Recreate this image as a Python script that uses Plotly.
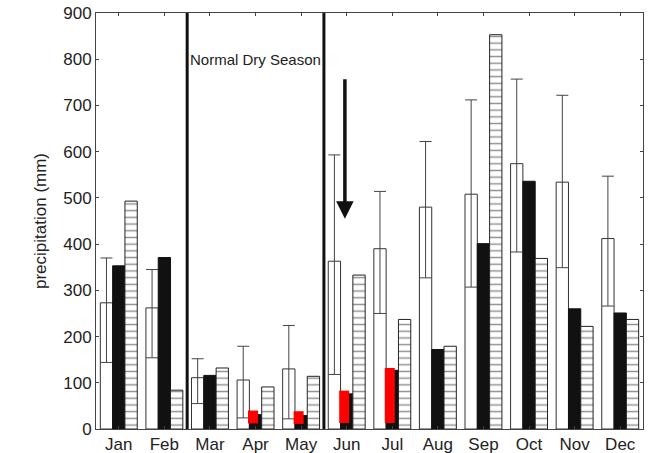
import plotly.graph_objects as go

months = ["Jan", "Feb", "Mar", "Apr", "May", "Jun", "Jul", "Aug", "Sep", "Oct", "Nov", "Dec"]
x_pos = list(range(1, 13))

# White bars: mean with error bars (upper / lower ends)
white_mean = [273, 262, 111, 106, 130, 363, 390, 480, 508, 574, 534, 412]
white_upper = [370, 345, 152, 179, 224, 593, 514, 622, 712, 757, 722, 547]
white_lower = [144, 154, 55, 24, 22, 118, 250, 327, 307, 383, 349, 266]

# Black bars
black_vals = [353, 371, 116, 31, 29, 76, 127, 172, 401, 536, 260, 251]

# Hatched bars
hatched_vals = [493, 84, 132, 91, 114, 333, 237, 179, 853, 369, 222, 237]

# Red highlight boxes (Apr-Jul)
red_months = [4, 5, 6, 7]
red_base = [12, 11, 13, 13]
red_top = [40, 38.5, 83, 132]

err_plus = [u - m for u, m in zip(white_upper, white_mean)]
err_minus = [m - l for m, l in zip(white_mean, white_lower)]

W = 0.27
fig = go.Figure()
fig.add_trace(go.Bar(
    x=x_pos, y=white_mean, width=W, offset=-1.5 * W,
    marker=dict(color="white", line=dict(color="#333", width=1)),
    error_y=dict(type="data", symmetric=False, array=err_plus, arrayminus=err_minus,
                 color="#444", thickness=1, width=6),
    showlegend=False))
fig.add_trace(go.Bar(
    x=x_pos, y=black_vals, width=W, offset=-0.5 * W,
    marker=dict(color="#111", line=dict(color="#111", width=1)),
    showlegend=False))
fig.add_trace(go.Bar(
    x=x_pos, y=hatched_vals, width=W, offset=0.5 * W,
    marker=dict(color="white", line=dict(color="#222", width=1),
                pattern=dict(shape="-", size=6.7, solidity=0.22, fgcolor="#222", bgcolor="white")),
    showlegend=False))
fig.add_trace(go.Bar(
    x=red_months, y=[t - b for t, b in zip(red_top, red_base)], base=red_base,
    width=0.22, offset=-0.165,
    marker=dict(color="#ff0000", line=dict(width=0)),
    showlegend=False))

# Season boundary lines
for xv in [2.5, 5.5]:
    fig.add_shape(type="line", x0=xv, x1=xv, y0=0, y1=1, xref="x", yref="paper",
                  line=dict(color="#111", width=3))

fig.add_annotation(x=4.0, y=799, text="Normal Dry Season", showarrow=False,
                   font=dict(family="Arial, Liberation Sans", size=15, color="#222"))

fig.add_annotation(x=5.96, y=455, ax=5.96, ay=760, xref="x", yref="y", axref="x", ayref="y",
                   text="", showarrow=True, arrowhead=2, arrowsize=1, arrowwidth=3.5,
                   arrowcolor="#111")

fig.update_layout(
    width=654, height=453,
    margin=dict(l=96, r=11, t=13, b=24),
    paper_bgcolor="white", plot_bgcolor="white",
    barmode="overlay",
    font=dict(family="Arial, Liberation Sans", size=17, color="#222"),
)
fig.update_xaxes(range=[0.5, 12.5], tickmode="array", tickvals=x_pos, ticktext=months,
                 automargin=False,
                 showgrid=False, zeroline=False, showline=True, linecolor="#444", linewidth=1,
                 mirror="allticks", ticks="inside", ticklen=3, tickcolor="#444")
fig.update_yaxes(range=[0, 900], tickmode="array", tickvals=list(range(0, 901, 100)),
                 automargin=False,
                 showgrid=False, zeroline=False, showline=True, linecolor="#444", linewidth=1,
                 mirror="allticks", ticks="inside", ticklen=3, tickcolor="#444",
                 title=dict(text="precipitation (mm)", font=dict(size=17), standoff=12))

fig.write_html("out.html")
